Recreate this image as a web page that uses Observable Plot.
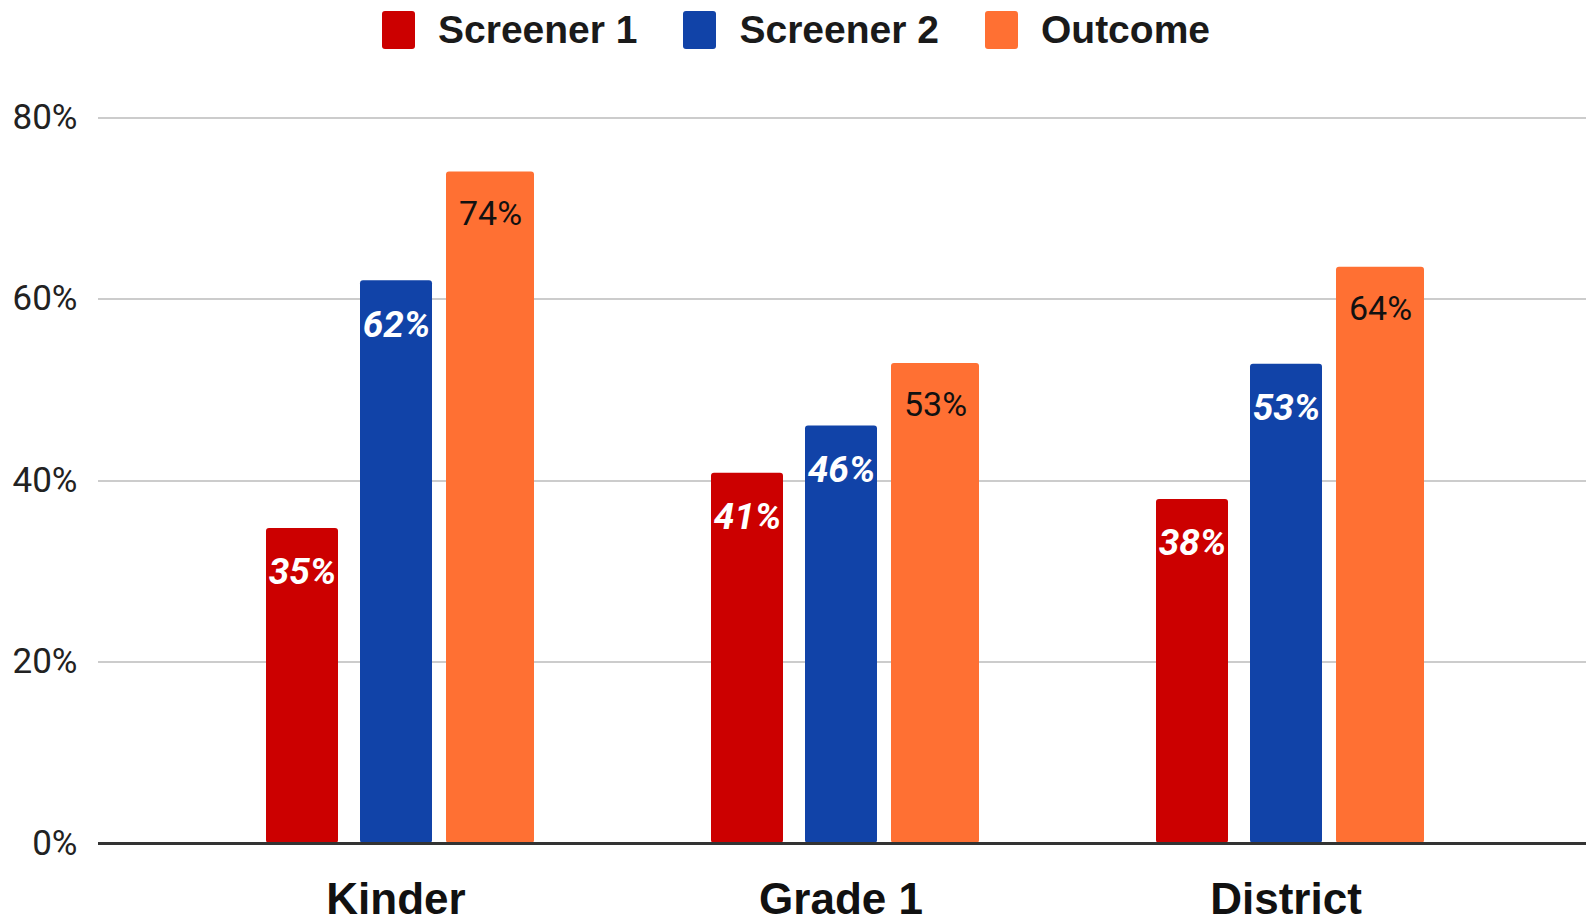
<!DOCTYPE html>
<html>
<head>
<meta charset="utf-8">
<script src="https://cdn.jsdelivr.net/npm/d3@7"></script>
<script src="https://cdn.jsdelivr.net/npm/@observablehq/plot@0.6"></script>
<style>
  body { margin: 0; background: #fff; }
  #legend { display: flex; align-items: center; height: 60px; padding-left: 382px;
            font-family: "Liberation Sans", Arial, sans-serif; font-weight: bold; font-size: 39px; color: #1a1a1a; }
  .item { display: flex; align-items: center; margin-right: 46px; }
  .sw { width: 33px; height: 38px; border-radius: 3px; margin-right: 23px; }
</style>
</head>
<body>
<div id="legend"></div>
<div id="chart"></div>
<script>
const categories = ["Kinder", "Grade 1", "District"];
const series = ["Screener 1", "Screener 2", "Outcome"];
const screener1 = [34.7, 40.8, 37.9];
const screener2 = [62.0, 46.0, 52.8];
const outcome = [74.0, 52.9, 63.5];
const yTicks = [0, 20, 40, 60, 80];
const colors = ["#cc0000", "#1143a8", "#ff7033"];

const valuesBySeries = [screener1, screener2, outcome];
const rows = categories.flatMap((c, i) =>
  series.map((s, j) => ({category: c, series: s, value: valuesBySeries[j][i]}))
);
const screenerRows = rows.filter(d => d.series !== "Outcome");
const outcomeRows = rows.filter(d => d.series === "Outcome");
const fmt = d => Math.round(d.value) + "%";

// Legend
const legend = document.getElementById("legend");
series.forEach((s, i) => {
  const item = document.createElement("div");
  item.className = "item";
  const sw = document.createElement("div");
  sw.className = "sw";
  sw.style.background = colors[i];
  const t = document.createElement("span");
  t.textContent = s;
  item.append(sw, t);
  legend.append(item);
});

const chart = Plot.plot({
  width: 1589,
  height: 861,
  marginLeft: 173,
  marginRight: 81,
  marginTop: 57,
  marginBottom: 78,
  style: {fontFamily: "Roboto, 'Liberation Sans', sans-serif", color: "#222", background: "#fff", overflow: "visible"},
  fx: {domain: categories, padding: 0, label: null},
  x: {domain: series, paddingInner: 0.065, paddingOuter: 0.877, axis: null},
  y: {domain: [0, 80], axis: null},
  color: {domain: series, range: colors},
  marks: [
    Plot.ruleY(yTicks.filter(d => d > 0), {stroke: "#cccccc", strokeWidth: 2, insetLeft: -75, insetRight: -78, shapeRendering: "crispEdges"}),
    Plot.barY(screenerRows, {fx: "category", x: "series", y: "value", fill: "series", insetLeft: 8, insetRight: 8, rx: 3}),
    Plot.barY(outcomeRows, {fx: "category", x: "series", y: "value", fill: "series", rx: 3}),
    Plot.ruleY([0], {stroke: "#333", strokeWidth: 3, insetLeft: -75, insetRight: -78, shapeRendering: "crispEdges"}),
    Plot.text(screenerRows, {fx: "category", x: "series", y: "value", text: fmt, dy: 44, lineAnchor: "middle",
      fill: "white", stroke: "series", strokeWidth: 5, fontWeight: "bold", fontStyle: "italic", fontSize: 37}),
    Plot.text(outcomeRows, {fx: "category", x: "series", y: "value", text: fmt, dy: 42, lineAnchor: "middle",
      fill: "#111", fontSize: 34}),
    Plot.axisY({ticks: yTicks, tickFormat: d => d + "%", tickSize: 0, tickPadding: 96, fontSize: 35, fill: "#222", label: null}),
    Plot.axisFx({anchor: "bottom", tickSize: 0, tickPadding: 39, fontSize: 44, fontWeight: "bold",
      fontFamily: "'Liberation Sans', Arial, sans-serif", fill: "#111", label: null})
  ]
});
document.getElementById("chart").append(chart);
</script>
</body>
</html>
